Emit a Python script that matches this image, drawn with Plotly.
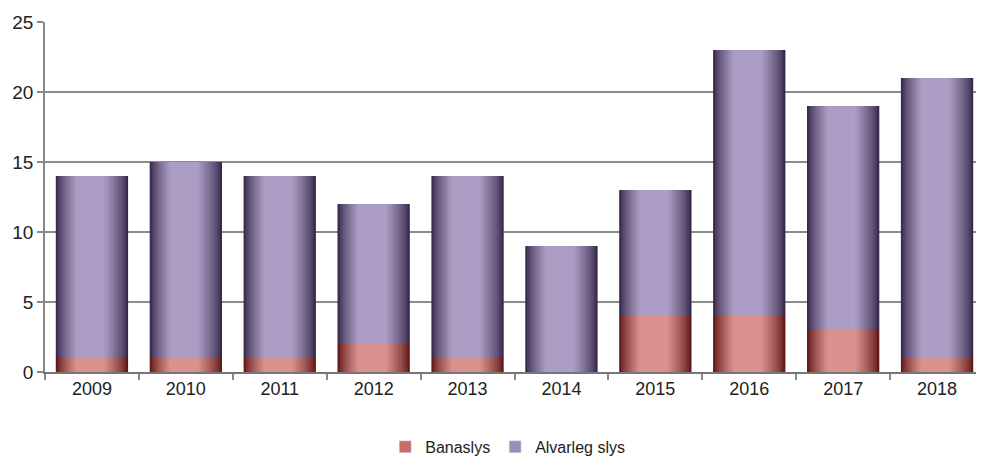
import plotly.graph_objects as go

years = ["2009", "2010", "2011", "2012", "2013", "2014", "2015", "2016", "2017", "2018"]
banaslys = [1, 1, 1, 2, 1, 0, 4, 4, 3, 1]
alvarleg = [13, 14, 13, 10, 13, 9, 9, 19, 16, 20]

series_names = ["Banaslys", "Alvarleg slys"]
dark_cols = [(96, 24, 24), (56, 42, 76)]
light_cols = [(218, 146, 142), (172, 157, 197)]
legend_cols = ["#c46e6c", "#9e8db9"]

W = 0.77
peak = -0.03  # light peak position relative to category centre
N = 18

def mix(c1, c2, t):
    return "rgb(%d,%d,%d)" % tuple(round(a + (b - a) * t) for a, b in zip(c1, c2))

fig = go.Figure()
stack_vals = [banaslys, alvarleg]
bases = [[0] * len(years), banaslys]
for s in range(2):
    for k in range(N):
        p = k / (N - 1) * 0.95
        a = -W / 2 + (peak + W / 2) * p
        b = W / 2 - (W / 2 - peak) * p
        c = min(1.0, p / 0.6) ** 0.75
        fig.add_trace(go.Bar(
            x=years, y=stack_vals[s], base=bases[s],
            offset=a, width=b - a,
            marker=dict(color=mix(dark_cols[s], light_cols[s], c), line=dict(width=0)),
            name=series_names[s], legendgroup=series_names[s],
            showlegend=False, hoverinfo="skip",
        ))
    fig.add_trace(go.Bar(
        x=[None], y=[None], name=series_names[s], legendgroup=series_names[s],
        marker=dict(color=legend_cols[s]), showlegend=True,
    ))

fig.update_layout(
    width=976, height=452,
    barmode="overlay",
    plot_bgcolor="white", paper_bgcolor="white",
    margin=dict(l=37, r=0, t=14, b=88, autoexpand=False),
    font=dict(family="Liberation Sans, Arial, sans-serif", color="#222222"),
    showlegend=True,
    legend=dict(orientation="h", xref="container", yref="container",
                x=0.512, xanchor="center", y=0.029, yanchor="middle",
                font=dict(size=16), itemwidth=30, traceorder="normal"),
    xaxis=dict(
        type="category", tickson="boundaries", ticks="outside", ticklen=6,
        tickcolor="#888888", tickwidth=1.5, automargin=False,
        showline=True, linecolor="#777777", linewidth=1.5,
        showgrid=False, tickfont=dict(size=18),
    ),
    yaxis=dict(
        range=[0, 25], dtick=5, ticks="outside", ticklen=6, tickcolor="#888888", tickwidth=1.5,
        showline=True, linecolor="#888888", linewidth=1.5, automargin=False,
        showgrid=True, gridcolor="#8c8c8c", gridwidth=1.5,
        tickfont=dict(size=19), zeroline=False,
    ),
)

fig.write_html("out.html")
